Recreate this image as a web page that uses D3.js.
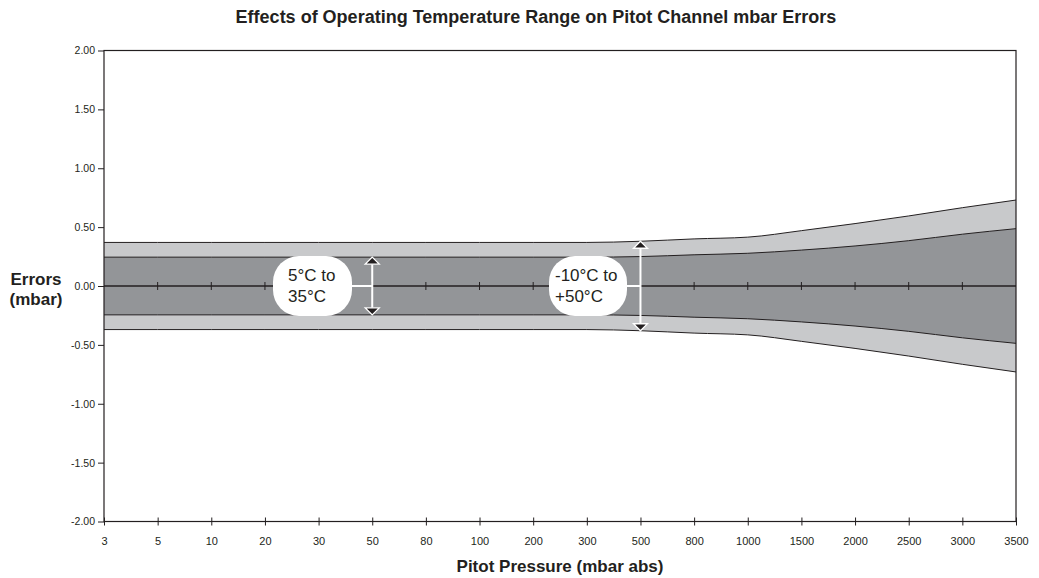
<!DOCTYPE html>
<html>
<head>
<meta charset="utf-8">
<script src="https://cdn.jsdelivr.net/npm/d3@7"></script>
<style>
  html, body { margin: 0; padding: 0; background: #fff; }
  svg { display: block; font-family: "Liberation Sans", Arial, sans-serif; }
</style>
</head>
<body>
<svg id="chart" width="1039" height="578"></svg>
<script>
// Pressure categories (mbar abs), evenly spaced along the x axis
const pressures = ["3","5","10","20","30","50","80","100","200","300","500","800","1000","1500","2000","2500","3000","3500"];
// Error envelope (± mbar) for the -10°C to +50°C range
const wideRange = [0.37,0.37,0.37,0.37,0.37,0.37,0.37,0.37,0.37,0.37,0.38,0.40,0.415,0.47,0.53,0.595,0.665,0.73];
// Error envelope (± mbar) for the 5°C to 35°C range
const narrowRange = [0.245,0.245,0.245,0.245,0.245,0.245,0.245,0.245,0.245,0.245,0.25,0.265,0.278,0.305,0.34,0.385,0.44,0.487];
const yTicks = [2, 1.5, 1, 0.5, 0, -0.5, -1, -1.5, -2];

const svg = d3.select("#chart");
const margin = { left: 104, right: 23, top: 50.5, bottom: 56.5 };
const W = 1039, H = 578;
const x = d3.scalePoint().domain(pressures).range([margin.left, W - margin.right]);
const y = d3.scaleLinear().domain([-2, 2]).range([H - margin.bottom, margin.top]);

const ink = "#231f20";
const fmt = v => d3.format(".2f")(v).replace("\u2212", "-");

// Title
svg.append("text")
  .attr("x", 536).attr("y", 23)
  .attr("text-anchor", "middle")
  .attr("font-size", 18).attr("font-weight", "bold").attr("fill", ink)
  .text("Effects of Operating Temperature Range on Pitot Channel mbar Errors");

const rows = pressures.map((p, i) => ({ p, wide: wideRange[i], narrow: narrowRange[i] }));
const curve = d3.curveMonotoneX;

// Outer band
svg.append("path").datum(rows)
  .attr("d", d3.area().curve(curve).x(d => x(d.p)).y0(d => y(-d.wide)).y1(d => y(d.wide)))
  .attr("fill", "#c8c9cb");
// Inner band
svg.append("path").datum(rows)
  .attr("d", d3.area().curve(curve).x(d => x(d.p)).y0(d => y(-d.narrow)).y1(d => y(d.narrow)))
  .attr("fill", "#939598");

// Band outlines
const edges = [d => d.wide, d => -d.wide, d => d.narrow, d => -d.narrow];
edges.forEach(f => {
  svg.append("path").datum(rows)
    .attr("d", d3.line().curve(curve).x(d => x(d.p)).y(d => y(f(d))))
    .attr("fill", "none").attr("stroke", ink).attr("stroke-width", 1);
});

// Zero line with category ticks
svg.append("line")
  .attr("x1", x.range()[0]).attr("x2", x.range()[1])
  .attr("y1", y(0)).attr("y2", y(0))
  .attr("stroke", ink).attr("stroke-width", 1.6);
svg.append("g").selectAll("line").data(pressures.slice(1, -1)).join("line")
  .attr("x1", d => x(d)).attr("x2", d => x(d))
  .attr("y1", y(0) - 4).attr("y2", y(0) + 4)
  .attr("stroke", ink).attr("stroke-width", 1);

// Frame
svg.append("rect")
  .attr("x", x.range()[0]).attr("y", y(2))
  .attr("width", x.range()[1] - x.range()[0]).attr("height", y(-2) - y(2))
  .attr("fill", "none").attr("stroke", ink).attr("stroke-width", 1.2);

// Y axis
const yAxis = svg.append("g")
  .attr("transform", `translate(${margin.left},0)`)
  .call(d3.axisLeft(y).tickValues(yTicks).tickFormat(fmt).tickSize(6).tickPadding(3));
yAxis.select(".domain").remove();
yAxis.selectAll("line").attr("stroke", ink);
yAxis.selectAll("text").attr("font-size", 10.5).attr("fill", ink)
  .attr("font-family", "'Liberation Sans', Arial, sans-serif");

// X axis (ticks straddle the baseline)
const xAxis = svg.append("g")
  .attr("transform", `translate(0,${y(-2)})`)
  .call(d3.axisBottom(x).tickSize(4).tickPadding(12));
xAxis.select(".domain").remove();
xAxis.selectAll(".tick line").attr("y1", -4).attr("stroke", ink);
xAxis.selectAll("text").attr("font-size", 11).attr("fill", ink)
  .attr("font-family", "'Liberation Sans', Arial, sans-serif");

// Axis titles
svg.append("text")
  .attr("x", 560).attr("y", 572)
  .attr("text-anchor", "middle")
  .attr("font-size", 17).attr("font-weight", "bold").attr("fill", ink)
  .text("Pitot Pressure (mbar abs)");
const yt = svg.append("text")
  .attr("x", 36).attr("y", 285)
  .attr("text-anchor", "middle")
  .attr("font-size", 17).attr("font-weight", "bold").attr("fill", ink);
yt.append("tspan").attr("x", 36).attr("dy", 0).text("Errors");
yt.append("tspan").attr("x", 36).attr("dy", 20).text("(mbar)");

// Range callouts: rounded label, connector and double arrow across the band
const callouts = [
  { at: "50", extent: narrowRange[pressures.indexOf("50")], lines: ["5°C to", "35°C"], boxX: 273, boxW: 79, textX: 288 },
  { at: "500", extent: wideRange[pressures.indexOf("500")], lines: ["-10°C to", "+50°C"], boxX: 549, boxW: 78, textX: 555 }
];
callouts.forEach(c => {
  const ax = x(c.at);
  const top = y(c.extent), bot = y(-c.extent);
  const g = svg.append("g");
  // connector
  g.append("line")
    .attr("x1", c.boxX + c.boxW - 4).attr("x2", ax)
    .attr("y1", y(0)).attr("y2", y(0))
    .attr("stroke", "#fff").attr("stroke-width", 2);
  // shaft
  g.append("line")
    .attr("x1", ax).attr("x2", ax)
    .attr("y1", top + 6).attr("y2", bot - 6)
    .attr("stroke", "#fff").attr("stroke-width", 2);
  // arrow heads
  const hw = 7, hh = 7;
  g.append("path")
    .attr("d", `M${ax},${top} L${ax + hw},${top + hh} L${ax - hw},${top + hh} Z`)
    .attr("fill", ink).attr("stroke", "#fff").attr("stroke-width", 1.3);
  g.append("path")
    .attr("d", `M${ax},${bot} L${ax + hw},${bot - hh} L${ax - hw},${bot - hh} Z`)
    .attr("fill", ink).attr("stroke", "#fff").attr("stroke-width", 1.3);
  // label box
  g.append("rect")
    .attr("x", c.boxX).attr("y", y(0) - 30)
    .attr("width", c.boxW).attr("height", 60)
    .attr("rx", 26).attr("ry", 26)
    .attr("fill", "#fff");
  const t = g.append("text")
    .attr("font-size", 17).attr("fill", ink);
  t.append("tspan").attr("x", c.textX).attr("y", y(0) - 5).text(c.lines[0]);
  t.append("tspan").attr("x", c.textX).attr("y", y(0) + 16).text(c.lines[1]);
});
</script>
</body>
</html>
